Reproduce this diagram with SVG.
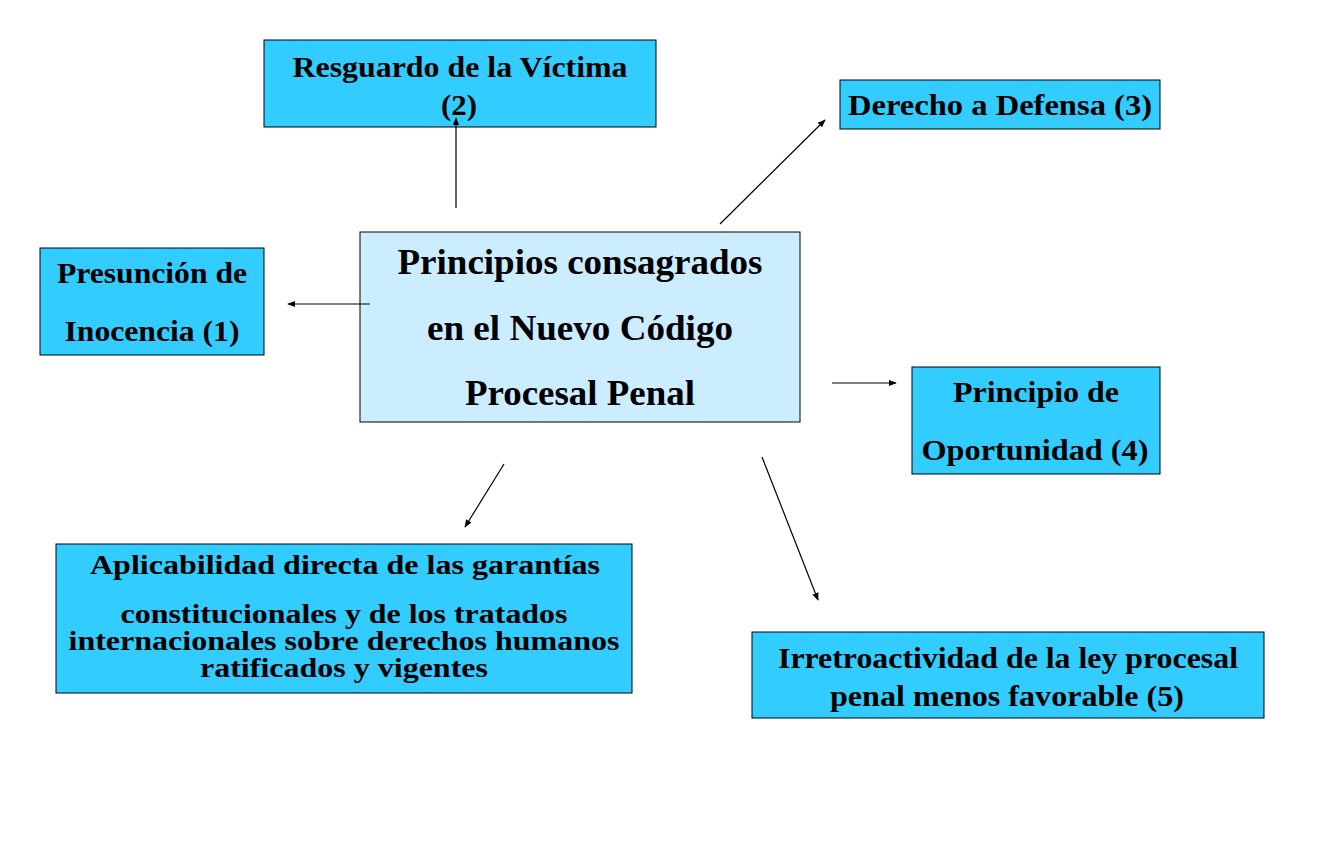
<svg xmlns="http://www.w3.org/2000/svg" width="1320" height="860" viewBox="0 0 1320 860">
<style>
.box{fill:#33CCFF;stroke:#000;stroke-width:1}
.ctr{fill:#CCECFF;stroke:#000;stroke-width:1}
text{font-family:"Liberation Serif","Times New Roman",serif;font-weight:bold;fill:#000;text-anchor:middle}
.t{font-size:30px}
.s{font-size:28px}
.c{font-size:36px}
.conn line{stroke:#000;stroke-width:1.2;marker-end:url(#ah)}
</style>
<defs>
<marker id="ah" viewBox="0 0 10 10" refX="9" refY="5" markerWidth="8" markerHeight="8" markerUnits="userSpaceOnUse" orient="auto">
<path d="M0,1 L10,5 L0,9 z" fill="#000"/>
</marker>
</defs>
<rect width="1320" height="860" fill="#fff"/>
<g id="n-resguardo"><rect class="box" x="264" y="40" width="392" height="87"/>
<text class="t" x="460" y="77" textLength="335" lengthAdjust="spacingAndGlyphs">Resguardo de la Víctima</text><text class="t" x="459" y="115" textLength="36" lengthAdjust="spacingAndGlyphs">(2)</text></g>
<g id="n-defensa"><rect class="box" x="840" y="80" width="320" height="49"/>
<text class="t" x="1000" y="115" textLength="304" lengthAdjust="spacingAndGlyphs">Derecho a Defensa (3)</text></g>
<g id="n-presuncion"><rect class="box" x="40" y="248" width="224" height="107"/>
<text class="t" x="152" y="283" textLength="190" lengthAdjust="spacingAndGlyphs">Presunción de</text><text class="t" x="152" y="341" textLength="175" lengthAdjust="spacingAndGlyphs">Inocencia (1)</text></g>
<g id="n-centro"><rect class="ctr" x="360" y="232" width="440" height="190"/>
<text class="c" x="580" y="274" textLength="365" lengthAdjust="spacingAndGlyphs">Principios consagrados</text><text class="c" x="580" y="340" textLength="306" lengthAdjust="spacingAndGlyphs">en el Nuevo Código</text><text class="c" x="580" y="405" textLength="230" lengthAdjust="spacingAndGlyphs">Procesal Penal</text></g>
<g id="n-oportunidad"><rect class="box" x="912" y="367" width="248" height="107"/>
<text class="t" x="1036" y="402" textLength="166" lengthAdjust="spacingAndGlyphs">Principio de</text><text class="t" x="1035" y="460" textLength="227" lengthAdjust="spacingAndGlyphs">Oportunidad (4)</text></g>
<g id="n-aplicabilidad"><rect class="box" x="56" y="544" width="576" height="149"/>
<text class="s" x="345" y="574" textLength="510" lengthAdjust="spacingAndGlyphs">Aplicabilidad directa de las garantías</text>
<text class="s" x="344" y="623" textLength="447" lengthAdjust="spacingAndGlyphs">constitucionales y de los tratados</text>
<text class="s" x="344" y="650" textLength="551" lengthAdjust="spacingAndGlyphs">internacionales sobre derechos humanos</text>
<text class="s" x="344" y="677" textLength="288" lengthAdjust="spacingAndGlyphs">ratificados y vigentes</text></g>
<g id="n-irretroactividad"><rect class="box" x="752" y="632" width="512" height="86"/>
<text class="t" x="1008" y="668" textLength="460" lengthAdjust="spacingAndGlyphs">Irretroactividad de la ley procesal</text><text class="t" x="1007" y="706" textLength="354" lengthAdjust="spacingAndGlyphs">penal menos favorable (5)</text></g>
<g id="connectors" class="conn">
<line x1="456" y1="208" x2="456" y2="118"/>
<line x1="720" y1="224" x2="825" y2="120"/>
<line x1="370" y1="304" x2="288" y2="304"/>
<line x1="832" y1="383" x2="896" y2="383"/>
<line x1="504" y1="464" x2="465" y2="527"/>
<line x1="762" y1="457" x2="818" y2="600"/>
</g>
</svg>
